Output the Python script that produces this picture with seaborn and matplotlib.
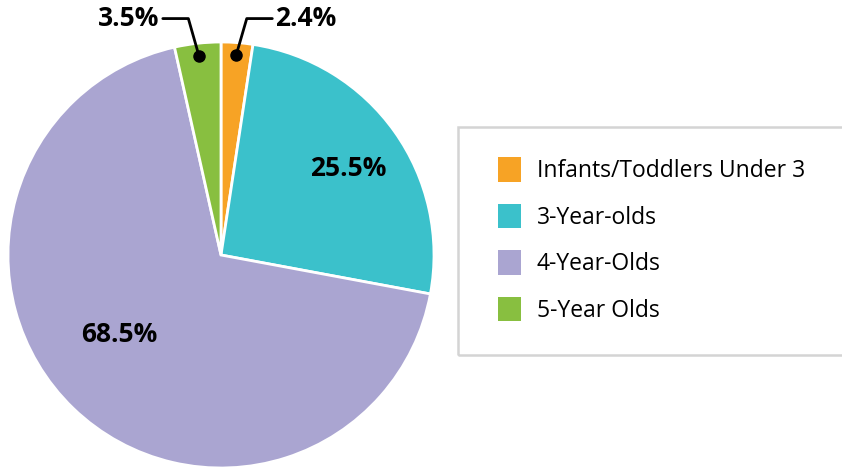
import numpy as np
import seaborn as sns
import matplotlib.pyplot as plt
from matplotlib.patches import Rectangle

# Data
categories = ['Infants/Toddlers Under 3', '3-Year-olds', '4-Year-Olds', '5-Year Olds']
shares = [2.4, 25.5, 68.5, 3.5]
labels = ['2.4%', '25.5%', '68.5%', '3.5%']
colors = sns.color_palette(['#F7A325', '#3BC1CB', '#AAA5D1', '#88BF40'])

sns.set_theme(style='white')
plt.rcParams['font.family'] = ['Open Sans', 'DejaVu Sans']
plt.rcParams['text.color'] = 'black'

fig = plt.figure(figsize=(8.42, 4.69), dpi=100)
ax = fig.add_axes([8 / 842, 1 / 469, 426 / 842, 426 / 469])

wedges, _ = ax.pie(shares, colors=colors, startangle=90, counterclock=False,
                   radius=1, wedgeprops=dict(edgecolor='white', linewidth=2))
ax.set_xlim(-1, 1)
ax.set_ylim(-1, 1)
ax.set_aspect('equal')
ax.axis('off')

# Inside labels
ax.text(0.596, 0.408, labels[1], ha='center', va='center', fontsize=19, fontweight='bold')
ang = np.deg2rad(218)
ax.text(0.605 * np.cos(ang), 0.605 * np.sin(ang), labels[2], ha='center', va='center',
        fontsize=19, fontweight='bold')

# Callouts for the small slices
for w, lab, side in [(wedges[0], labels[0], 1), (wedges[3], labels[3], -1)]:
    mid = np.deg2rad((w.theta1 + w.theta2) / 2)
    px, py = 0.94 * np.cos(mid), 0.94 * np.sin(mid)
    ex, ey = px + side * 0.05, 1.11
    tx = ex + side * 0.12
    ax.plot([px, ex, tx], [py, ey, ey], color='black', lw=2, clip_on=False)
    ax.plot(px, py, 'o', color='black', ms=8, clip_on=False)
    ax.text(tx + side * 0.015, ey, lab, ha='left' if side > 0 else 'right', va='center',
            fontsize=19, fontweight='bold', clip_on=False)

# Legend box (runs off the right edge)
fig.patches.append(Rectangle((458 / 842, (469 - 355) / 469), 400 / 842, 228 / 469,
                             transform=fig.transFigure, fill=False,
                             edgecolor='#d4d4d4', linewidth=1.8))
leg = fig.legend(wedges, categories, loc='center left', bbox_to_anchor=(498 / 842, 229 / 469),
                 fontsize=16.5, frameon=False, handlelength=1.0, handleheight=1.25,
                 handletextpad=0.7, labelspacing=0.9, borderpad=0, borderaxespad=0)
for h in leg.legend_handles:
    h.set_edgecolor('none')

fig.savefig('out.png', dpi=100)
